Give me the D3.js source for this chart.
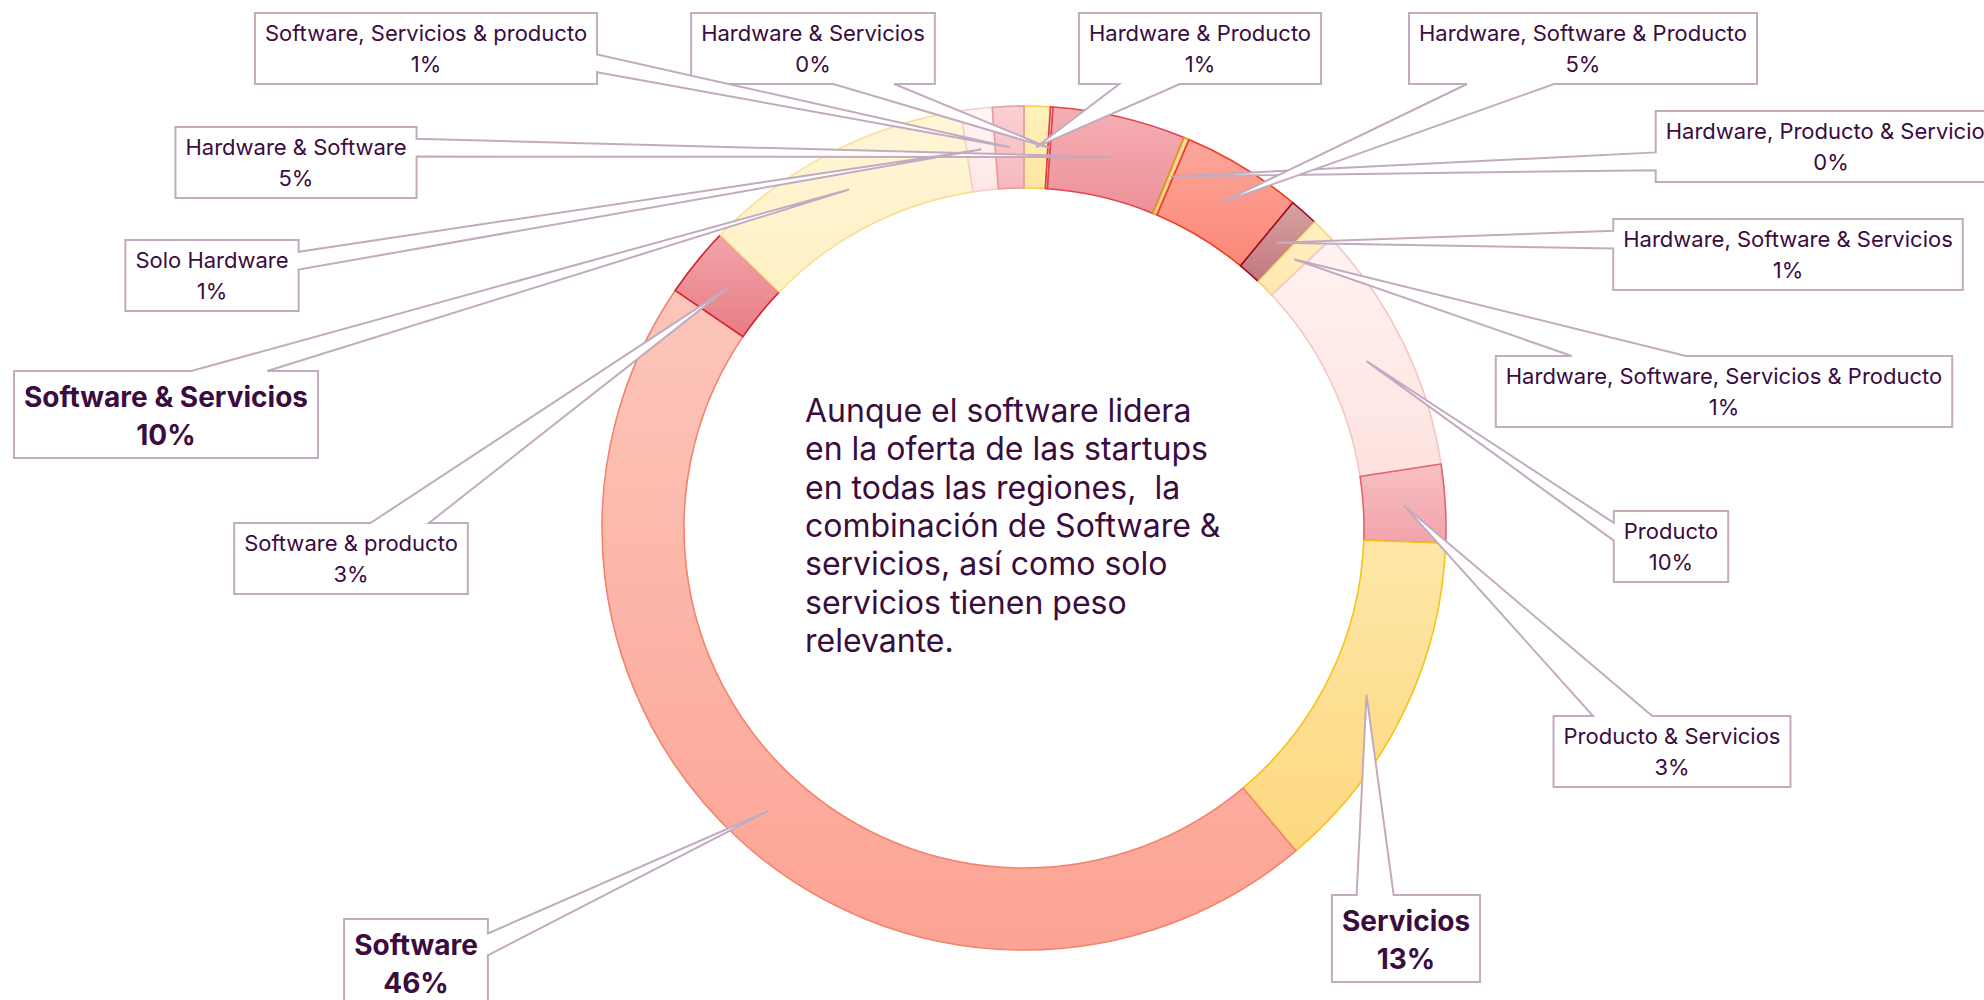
<!DOCTYPE html>
<html>
<head>
<meta charset="utf-8">
<script src="https://cdn.jsdelivr.net/npm/d3@7"></script>
<style>
  body { margin: 0; background: #fff; }
  svg { display: block; font-family: Inter, "Noto Sans", sans-serif; }
</style>
</head>
<body>
<div id="chart"></div>
<script>
// categories, clockwise from 12 o'clock
let categorias = [
  'Hardware & Producto',
  'Hardware & Servicios',
  'Hardware & Software',
  'Hardware, Producto & Servicios',
  'Hardware, Software & Producto',
  'Hardware, Software & Servicios',
  'Hardware, Software, Servicios & Producto',
  'Producto',
  'Producto & Servicios',
  'Servicios',
  'Software',
  'Software & producto',
  'Software & Servicios',
  'Solo Hardware',
  'Software, Servicios & producto'
];

// share of startups (%)
let valores = [1.0, 0.1, 5.1, 0.2, 4.6, 1.1, 0.9, 9.6, 3.0, 13.3, 45.7, 2.7, 10.4, 1.2, 1.2];

// labels shown in bold
let destacados = ['Servicios', 'Software', 'Software & Servicios'];

let textoCentral = [
  'Aunque el software lidera',
  'en la oferta de las startups',
  'en todas las regiones,  la',
  'combinación de Software &',
  'servicios, así como solo',
  'servicios tienen peso',
  'relevante.'
];

// fill gradient (top, bottom) and border of each slice
let colorArriba = ['#fff1bd', '#fbd0d3', '#f5afb5', '#f8d9a8', '#fca79b', '#d6a2a3', '#fff1c2',
  '#fff3f1', '#f7c0c4', '#fee7a8', '#fcc6bb', '#f2a5aa', '#fff6d8', '#fff6f5', '#f9d0d3'];
let colorAbajo = ['#fee6a0', '#f7c0c4', '#ee9098', '#f5cc95', '#fb8778', '#c2787e', '#ffe8ad',
  '#fde2df', '#f2a3aa', '#fdd87f', '#fca393', '#e97b83', '#fff0c5', '#fde6e5', '#f5b8bd'];
let colorBorde = ['#f6cf55', '#e4373f', '#e2444e', '#d6a10c', '#f23c22', '#98101e', '#f6d276',
  '#f5c6c0', '#e8606c', '#f6c31a', '#f2846c', '#d41e2c', '#f7e08f', '#f6cccb', '#e89aa2'];

// callout boxes: centre x and top y
let cajaX = [1200, 813, 296, 1831, 1583, 1788, 1724, 1671, 1672, 1406, 416, 351, 166, 212, 426];
let cajaY = [13, 13, 127, 111, 13, 219, 356, 511, 716, 895, 919, 523, 371, 240, 13];

let width = 1984;
let height = 1000;
let cx = 1024, cy = 528;
let rOut = 422, rIn = 340;
let tinta = '#3b0c3e';
let lineaCaja = '#c2abbe';

let datos = categorias.map(function(c, i) {
  return {nombre: c, valor: valores[i], i: i};
});

let svg = d3.select('#chart').append('svg')
    .attr('width', width)
    .attr('height', height);

svg.append('rect')
    .attr('width', width)
    .attr('height', height)
    .attr('fill', '#fff');

let defs = svg.append('defs');

datos.forEach(function(d) {
  let g = defs.append('linearGradient')
      .attr('id', 'grad' + d.i)
      .attr('x1', 0).attr('y1', 0)
      .attr('x2', 0).attr('y2', 1);
  g.append('stop').attr('offset', '0%').attr('stop-color', colorArriba[d.i]);
  g.append('stop').attr('offset', '100%').attr('stop-color', colorAbajo[d.i]);
});

let pie = d3.pie()
    .sort(null)
    .value(function(d) { return d.valor; });

let arc = d3.arc()
    .innerRadius(rIn)
    .outerRadius(rOut);

let arcos = pie(datos);

// the ring
let anillo = svg.append('g')
    .attr('transform', 'translate(' + cx + ',' + cy + ')');

anillo.selectAll('path')
    .data(arcos)
  .enter().append('path')
    .attr('d', arc)
    .attr('fill', function(d) { return 'url(#grad' + d.data.i + ')'; })
    .attr('stroke', function(d) { return colorBorde[d.data.i]; })
    .attr('stroke-width', 1.6)
    .attr('stroke-linejoin', 'round');

// text in the hole
svg.append('g').selectAll('text')
    .data(textoCentral)
  .enter().append('text')
    .attr('x', 805)
    .attr('y', function(d, i) { return 421.7 + i * 38.4; })
    .attr('fill', tinta)
    .style('font-size', '32px')
    .style('white-space', 'pre')
    .text(function(d) { return d; });

// rectangle callout with a wedge pointing at (tx, ty)
function callout(x, y, w, h, tx, ty) {
  let dx = tx - (x + w / 2);
  let dy = ty - (y + h / 2);
  let p;
  if (Math.abs(dx) * h > Math.abs(dy) * w) {
    let f = dy > 0 ? [7 / 12, 5 / 6] : [1 / 6, 5 / 12];
    let y1 = y + h * f[0], y2 = y + h * f[1];
    if (dx > 0) {
      p = [[x, y], [x + w, y], [x + w, y1], [tx, ty], [x + w, y2], [x + w, y + h], [x, y + h]];
    } else {
      p = [[x, y], [x + w, y], [x + w, y + h], [x, y + h], [x, y2], [tx, ty], [x, y1]];
    }
  } else {
    let f = dx > 0 ? [7 / 12, 5 / 6] : [1 / 6, 5 / 12];
    let x1 = x + w * f[0], x2 = x + w * f[1];
    if (dy < 0) {
      p = [[x, y], [x1, y], [tx, ty], [x2, y], [x + w, y], [x + w, y + h], [x, y + h]];
    } else {
      p = [[x, y], [x + w, y], [x + w, y + h], [x2, y + h], [tx, ty], [x1, y + h], [x, y + h]];
    }
  }
  return 'M' + p.join('L') + 'Z';
}

// callouts
arcos.forEach(function(d) {
  let i = d.data.i;
  let bold = destacados.indexOf(d.data.nombre) >= 0;
  let fs = bold ? 28 : 22;
  let h = bold ? 87 : 71;
  let b1 = bold ? 35.5 : 28;
  let b2 = bold ? 74 : 59;
  let c = arc.centroid(d);
  let tx = cx + c[0], ty = cy + c[1];

  let g = svg.append('g');
  let forma = g.append('path');

  let t1 = g.append('text')
      .attr('x', cajaX[i])
      .attr('y', cajaY[i] + b1)
      .attr('text-anchor', 'middle')
      .attr('fill', tinta)
      .style('font-size', fs + 'px')
      .style('font-weight', bold ? 700 : 400)
      .text(d.data.nombre);

  let t2 = g.append('text')
      .attr('x', cajaX[i])
      .attr('y', cajaY[i] + b2)
      .attr('text-anchor', 'middle')
      .attr('fill', tinta)
      .style('font-size', fs + 'px')
      .style('font-weight', bold ? 700 : 400)
      .text(Math.round(d.data.valor) + '%');

  let w = Math.max(t1.node().getComputedTextLength(), t2.node().getComputedTextLength()) + 20;
  let x = cajaX[i] - w / 2;

  forma.attr('d', callout(x, cajaY[i], w, h, tx, ty))
      .attr('fill', '#fff')
      .attr('stroke', lineaCaja)
      .attr('stroke-width', 2)
      .attr('stroke-linejoin', 'miter');
});
</script>
</body>
</html>
